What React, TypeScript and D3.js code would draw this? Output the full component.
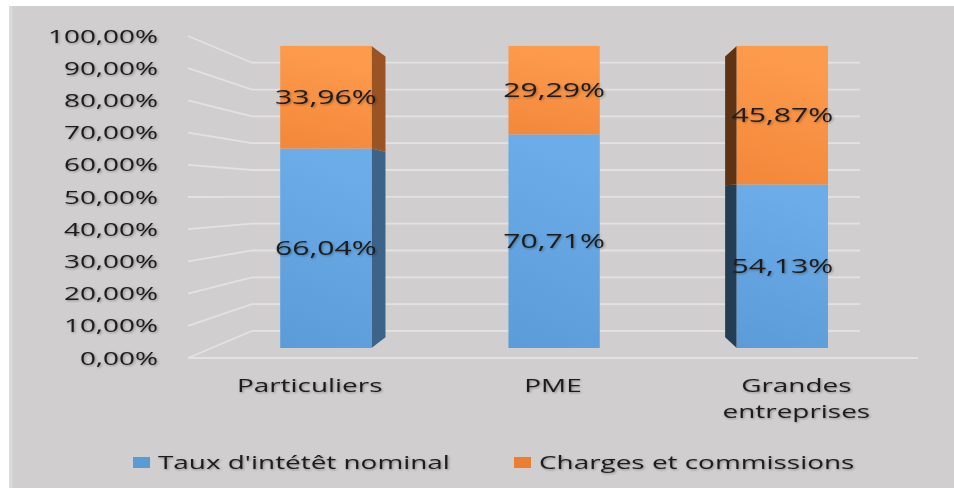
import React from "react";
import * as d3 from "d3";

const categories = ["Particuliers", "PME", "Grandes entreprises"];
const seriesNames = ["Taux d'intétêt nominal", "Charges et commissions"];
const tauxNominal = [0.6604, 0.7071, 0.5413];
const charges = [0.3396, 0.2929, 0.4587];
const yTicks = [0, 0.1, 0.2, 0.3, 0.4, 0.5, 0.6, 0.7, 0.8, 0.9, 1];

const W = 954;
const H = 488;
const SX = 1.55; // picture is stretched horizontally
const FONT = "'Open Sans', 'DejaVu Sans', sans-serif";

// perspective: everything shrinks toward this point
const vp = { x: 571, y: 196 };
const sBar = 0.938;
const sBarBack = sBar * 0.93;
const sWall = 0.833;
const proj = (x: number, y: number, s: number): [number, number] => [
  vp.x + (x - vp.x) * s,
  vp.y + (y - vp.y) * s,
];

const locale = d3.formatLocale({ decimal: ",", thousands: " ", grouping: [3], currency: ["", " €"] });
const pct = locale.format(".2%");

const Txt = ({ x, y, anchor = "middle", size = 18, children }: any) => (
  <text
    transform={`translate(${x},${y}) scale(${SX},1)`}
    textAnchor={anchor}
    fontFamily={FONT}
    fontSize={size}
    fill="#1c1c1c"
    filter="url(#soft)"
  >
    {children}
  </text>
);

export default function App() {
  const y = d3.scaleLinear().domain([0, 1]).range([358, 36]);
  const x = d3
    .scaleBand<string>()
    .domain(categories)
    .range([188, 918])
    .paddingInner(0.6)
    .paddingOuter(0.3);

  const rows = categories.map((c, i) => ({ cat: c, a: tauxNominal[i], b: charges[i] }));
  const stack = d3.stack<any>().keys(["a", "b"])(rows);

  const fills = ["url(#gBlue)", "url(#gOrange)"];
  const legendColors = ["#5b9bd5", "#ed7d31"];

  const xLeft = 188;
  const xRight = 918;

  return (
    <svg width={W} height={H} style={{ position: "absolute", left: 0, top: 0 }}>
      <defs>
        <linearGradient id="gBlue" x1="0.2" y1="0" x2="0" y2="1">
          <stop offset="0%" stopColor="#6cace8" />
          <stop offset="100%" stopColor="#5b9bd7" />
        </linearGradient>
        <linearGradient id="gOrange" x1="0.2" y1="0" x2="0" y2="1">
          <stop offset="0%" stopColor="#fd9b4c" />
          <stop offset="100%" stopColor="#f3873a" />
        </linearGradient>
        <filter id="soft" x="-10%" y="-30%" width="120%" height="160%">
          <feGaussianBlur in="SourceAlpha" stdDeviation="1" result="b" />
          <feOffset dx="0.5" dy="0.8" in="b" result="o" />
          <feComponentTransfer in="o" result="sh">
            <feFuncA type="linear" slope="0.35" />
          </feComponentTransfer>
          <feMerge>
            <feMergeNode in="sh" />
            <feMergeNode in="SourceGraphic" />
          </feMerge>
        </filter>
      </defs>

      <rect x={0} y={0} width={W} height={H} fill="#ffffff" />
      <rect x={9} y={6} width={W - 9} height={H - 6} fill="#d0cecf" />
      <rect x={9} y={6} width={3.5} height={H - 6} fill="#dbdada" />

      {/* gridlines: side wall + back wall */}
      {yTicks.map((t) => {
        const yy = y(t);
        const [bx, by] = proj(xLeft, yy, sWall);
        const [rx] = proj(xRight, yy, sWall);
        return (
          <path
            key={t}
            d={`M${xLeft},${yy}L${bx},${by}L${rx},${by}`}
            fill="none"
            stroke="#e3e2e2"
            strokeWidth={1.8}
          />
        );
      })}
      {/* floor front edge */}
      <line x1={xLeft} x2={xRight} y1={y(0)} y2={y(0)} stroke="#e3e2e2" strokeWidth={1.8} />

      {/* bars */}
      {categories.map((c) => {
        const x0 = x(c)!;
        const x1 = x0 + x.bandwidth();
        const [fx0] = proj(x0, 0, sBar);
        const [fx1] = proj(x1, 0, sBar);
        let sideX: number | null = null;
        let sideColors: string[] = [];
        if (fx1 < vp.x) {
          sideX = x1;
          sideColors = ["#3b6488", "#9a5322"];
        } else if (fx0 > vp.x) {
          sideX = x0;
          sideColors = ["#233d55", "#5d3314"];
        }
        return (
          <g key={c}>
            {stack.map((s, si) => {
              const d = s.find((e: any) => e.data.cat === c)!;
              const yTop = y(d[1]);
              const yBot = y(d[0]);
              const [, py0] = proj(x0, yTop, sBar);
              const [, py1] = proj(x0, yBot, sBar);
              let side = null;
              if (sideX !== null) {
                const a = proj(sideX, yTop, sBar);
                const b = proj(sideX, yBot, sBar);
                const bb = proj(sideX, yBot, sBarBack);
                const ab = proj(sideX, yTop, sBarBack);
                side = (
                  <polygon
                    points={[a, b, bb, ab].map((p) => p.join(",")).join(" ")}
                    fill={sideColors[si]}
                  />
                );
              }
              return (
                <g key={si}>
                  {side}
                  <rect x={fx0} y={py0} width={fx1 - fx0} height={py1 - py0} fill={fills[si]} />
                </g>
              );
            })}
          </g>
        );
      })}

      {/* data labels */}
      {categories.map((c) =>
        stack.map((s, si) => {
          const d = s.find((e: any) => e.data.cat === c)!;
          const cx = proj(x(c)! + x.bandwidth() / 2, 0, sBar)[0];
          const my = proj(0, y((d[0] + d[1]) / 2), sBar)[1];
          return (
            <Txt key={c + si} x={cx} y={my + 7} size={19.5}>
              {pct(d[1] - d[0])}
            </Txt>
          );
        })
      )}

      {/* y axis labels */}
      {yTicks.map((t) => (
        <Txt key={t} x={158} y={y(t) + 6.5} anchor="end">
          {pct(t)}
        </Txt>
      ))}

      {/* category labels */}
      {categories.map((c) => {
        const lines = c.split(" ");
        const cx = x(c)! + x.bandwidth() / 2;
        return lines.map((ln, li) => (
          <Txt key={c + li} x={cx} y={392 + li * 26}>
            {ln}
          </Txt>
        ));
      })}

      {/* legend */}
      {seriesNames.map((n, i) => {
        const lx = [133, 514][i];
        return (
          <g key={n}>
            <rect x={lx} y={457} width={17} height={11} fill={legendColors[i]} />
            <Txt x={lx + 25} y={469} anchor="start">
              {n}
            </Txt>
          </g>
        );
      })}
    </svg>
  );
}
